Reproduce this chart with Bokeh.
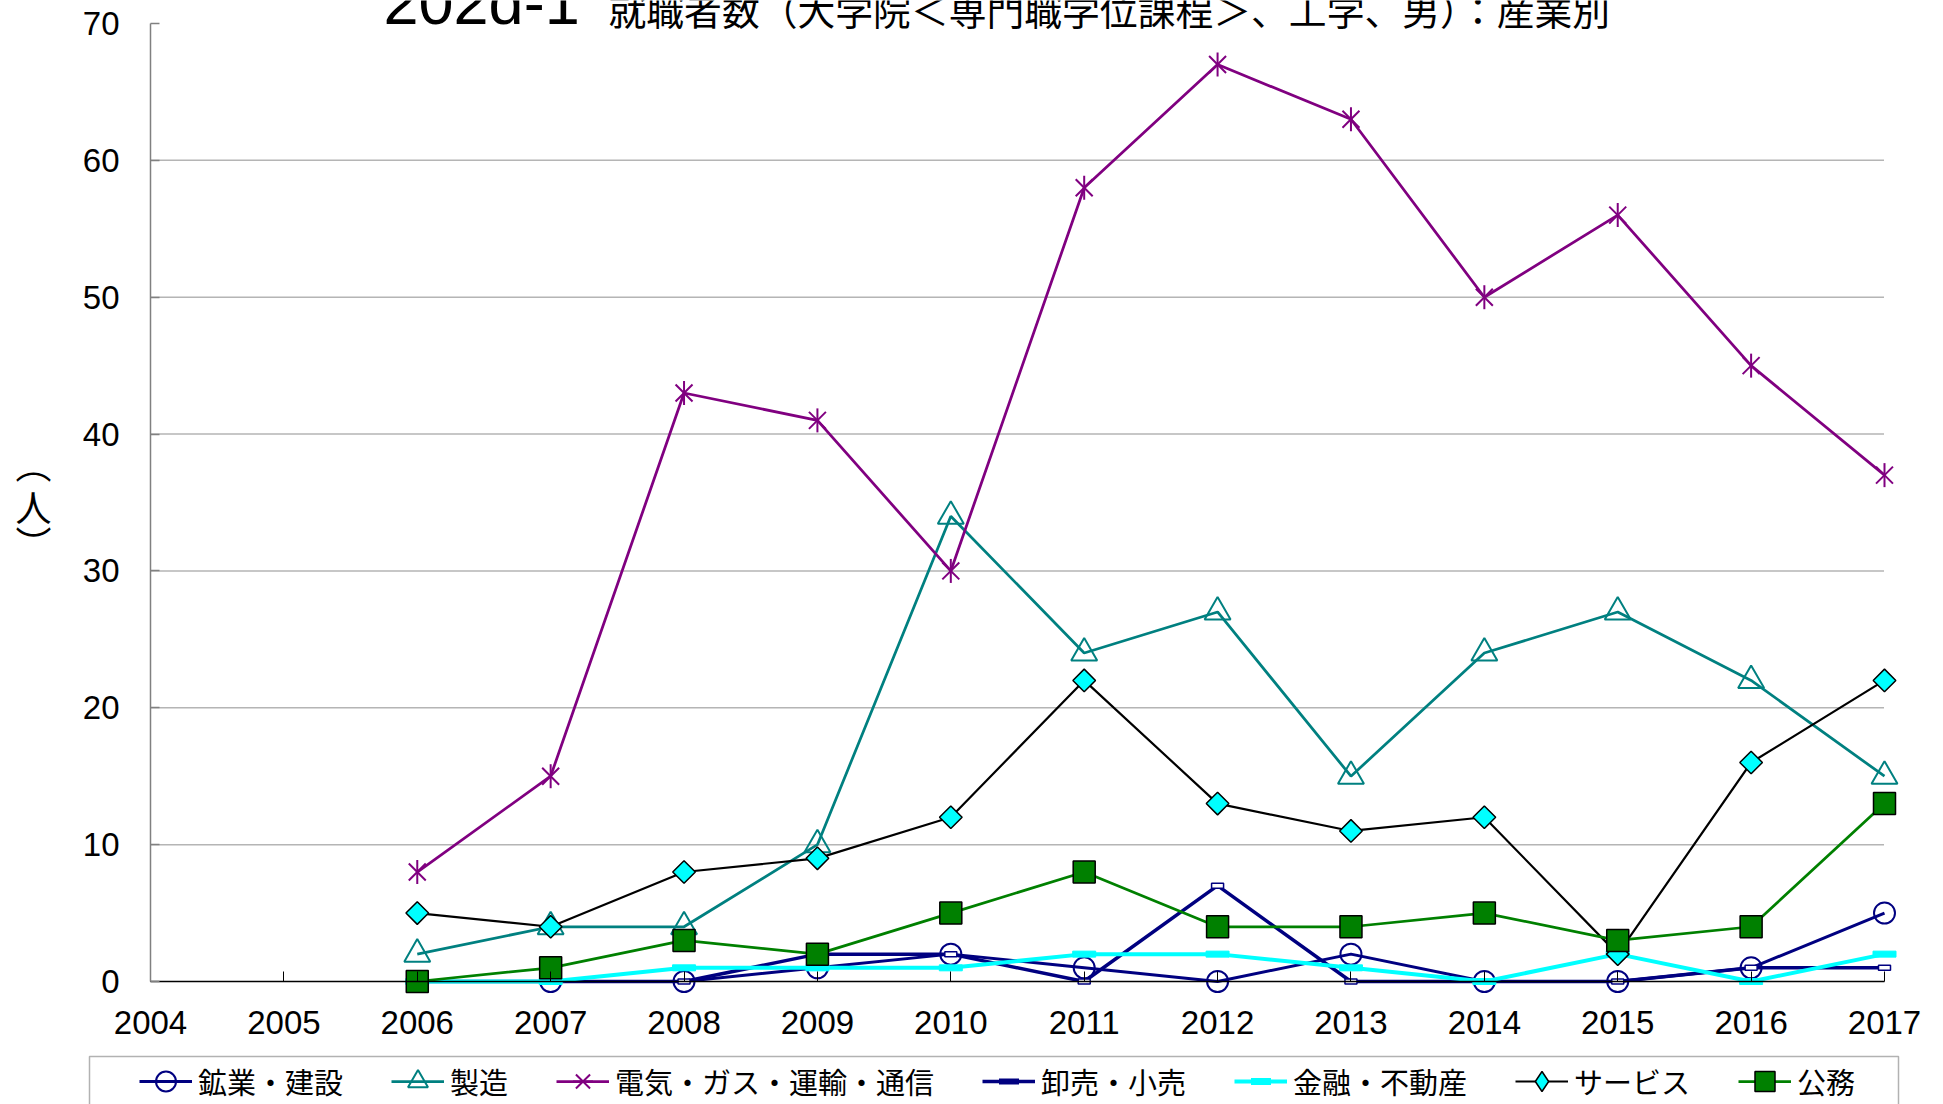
import math
from bokeh.plotting import figure
from bokeh.models import (ColumnDataSource, FixedTicker, Label, Legend, LegendItem, Range1d,
                          BoxAnnotation)
from bokeh.embed import file_html
from bokeh.resources import INLINE

# ---------------- data ----------------
years = [2006, 2007, 2008, 2009, 2010, 2011, 2012, 2013, 2014, 2015, 2016, 2017]
mining_construction = [0, 0, 0, 1, 2, 1, 0, 2, 0, 0, 1, 5]            # 鉱業・建設
manufacturing = [2, 4, 4, 10, 34, 24, 27, 15, 24, 27, 22, 15]          # 製造
utilities_transport = [8, 15, 43, 41, 30, 58, 67, 63, 50, 56, 45, 37]  # 電気・ガス・運輸・通信
wholesale_retail = [0, 0, 0, 2, 2, 0, 7, 0, 0, 0, 1, 1]                # 卸売・小売
finance_realestate = [0, 0, 1, 1, 1, 2, 2, 1, 0, 2, 0, 2]              # 金融・不動産
services = [5, 4, 8, 9, 12, 22, 13, 11, 12, 2, 16, 22]                 # サービス
public_service = [0, 1, 3, 2, 5, 8, 4, 4, 5, 3, 4, 13]                 # 公務

series_names = ["鉱業・建設", "製造", "電気・ガス・運輸・通信", "卸売・小売",
                "金融・不動産", "サービス", "公務"]
x_ticks = list(range(2004, 2018))
y_ticks = [0, 10, 20, 30, 40, 50, 60, 70]
grid_ticks = [10, 20, 30, 40, 50, 60]
title_code = "202d-1"
title_text = "就職者数（大学院＜専門職学位課程＞、工学、男）：産業別"
y_label_chars = ["︵", "人", "︶"]

JP = "Noto Sans CJK JP"
LAT = "Liberation Sans"

# ---------------- layout (pixels) ----------------
W, H = 1943, 1104
AX_LEFT, AX_RIGHT = 150, 1884      # pixel of first / last x tick
AX_BOTTOM, AX_TOP = 981, 23        # pixel of y = 0 / y = 70
x0, x1 = x_ticks[0], x_ticks[-1]
y0, y1 = y_ticks[0], y_ticks[-1]
xs = (AX_RIGHT - AX_LEFT) / (x1 - x0)
ys = (AX_BOTTOM - AX_TOP) / (y1 - y0)
x_range = Range1d(x0 - AX_LEFT / xs, x1 + (W - AX_RIGHT) / xs)
y_range = Range1d(y0 - (H - AX_BOTTOM) / ys, y1 + AX_TOP / ys)

p = figure(width=W, height=H, output_backend="svg", toolbar_location=None,
           x_range=x_range, y_range=y_range,
           min_border_left=0, min_border_right=0, min_border_top=0, min_border_bottom=0)
p.title.text = ""
p.outline_line_color = None
p.background_fill_color = "white"
p.border_fill_color = "white"
p.xgrid.visible = False
p.ygrid.visible = False

# axes drawn at fixed data locations (take no panel space)
p.xaxis.fixed_location = y0
p.yaxis.fixed_location = x0
p.xaxis.bounds = (x0, x1)
p.yaxis.bounds = (y0, y1)
p.xaxis.ticker = FixedTicker(ticks=x_ticks)
p.yaxis.ticker = FixedTicker(ticks=y_ticks)
for ax in (p.xaxis, p.yaxis):
    ax.minor_tick_line_color = None
    ax.major_label_text_font = LAT
    ax.major_label_text_font_size = "33px"
    ax.major_label_text_color = "black"
    ax.major_tick_out = 0
p.xaxis.axis_line_color = "black"
p.xaxis.axis_line_width = 1.5
p.xaxis.major_tick_line_color = "black"
p.xaxis.major_tick_in = 10
p.xaxis.major_label_standoff = 29
p.yaxis.axis_line_color = "#808080"
p.yaxis.axis_line_width = 1.5
p.yaxis.major_tick_line_color = "#808080"
p.yaxis.major_tick_line_width = 1.5
p.yaxis.major_tick_in = 9
p.yaxis.major_label_standoff = 31

# horizontal dotted gridlines across the plotting area
p.segment(x0=x0, x1=x1, y0=grid_ticks, y1=grid_ticks, line_color="#6a6a6a",
          line_width=1.5, line_dash="1 1")

src = ColumnDataSource(dict(x=years, m=mining_construction, f=manufacturing,
                            u=utilities_transport, w=wholesale_retail,
                            fi=finance_realestate, s=services, g=public_service))

NAVY, TEAL, PURPLE, CYAN, GREEN = "#000080", "#008080", "#800080", "#00FFFF", "#008000"

items = []

# 鉱業・建設
l1 = p.line("x", "m", source=src, line_color=NAVY, line_width=3)
m1 = p.scatter("x", "m", source=src, marker="circle", size=21, fill_color=None,
               line_color=NAVY, line_width=2)
items.append(LegendItem(label=series_names[0], renderers=[l1, m1]))

# 製造
l2 = p.line("x", "f", source=src, line_color=TEAL, line_width=2.75)
m2 = p.scatter("x", "f", source=src, marker="triangle", size=26, fill_color=None,
               line_color=TEAL, line_width=2)
items.append(LegendItem(label=series_names[1], renderers=[l2, m2]))

# 電気・ガス・運輸・通信
l3 = p.line("x", "u", source=src, line_color=PURPLE, line_width=2.75)
m3a = p.scatter("x", "u", source=src, marker="x", size=24, line_color=PURPLE, line_width=2)
m3b = p.scatter("x", "u", source=src, marker="dash", size=24, angle=math.pi / 2,
                line_color=PURPLE, line_width=2)
items.append(LegendItem(label=series_names[2], renderers=[l3, m3a, m3b]))

# 卸売・小売
l4 = p.line("x", "w", source=src, line_color=NAVY, line_width=3.5)
p.rect("x", "w", source=src, width=12, height=5, width_units="screen",
       height_units="screen", fill_color="white", line_color=NAVY, line_width=1.5)
g4 = p.scatter("x", "w", source=src, marker="dash", size=0, line_color=NAVY,
               line_width=6, line_cap="butt")
items.append(LegendItem(label=series_names[3], renderers=[l4, g4]))

# 金融・不動産
l5 = p.line("x", "fi", source=src, line_color=CYAN, line_width=4)
p.rect("x", "fi", source=src, width=23, height=6, width_units="screen",
       height_units="screen", fill_color=CYAN, line_color=CYAN, line_width=1)
g5 = p.scatter("x", "fi", source=src, marker="dash", size=0, line_color=CYAN,
               line_width=7, line_cap="butt")
items.append(LegendItem(label=series_names[4], renderers=[l5, g5]))

# サービス
l6 = p.line("x", "s", source=src, line_color="black", line_width=2.2)
p.scatter("x", "s", source=src, marker="square", size=16, angle=math.pi / 4,
          fill_color=CYAN, line_color="black", line_width=1.5)
g6 = p.scatter("x", "s", source=src, marker="diamond", size=0, fill_color=CYAN,
               line_color="black", line_width=1.5)
items.append(LegendItem(label=series_names[5], renderers=[l6, g6]))

# 公務
l7 = p.line("x", "g", source=src, line_color=GREEN, line_width=2.75)
m7 = p.scatter("x", "g", source=src, marker="square", size=22, fill_color=GREEN,
               line_color="black", line_width=1.5)
items.append(LegendItem(label=series_names[6], renderers=[l7, m7]))

# legend frame (box) and legend
p.add_layout(BoxAnnotation(left=89, right=1898, top=H - 1056, bottom=-20,
                           left_units="screen", right_units="screen",
                           top_units="screen", bottom_units="screen",
                           fill_color="white", fill_alpha=1,
                           line_color="black", line_width=1.5))
legend = Legend(items=items, orientation="horizontal", location=(139, -2),
                label_text_font=JP, label_text_font_size="29px", label_text_color="black",
                label_standoff=6, spacing=48, glyph_width=53, glyph_height=50,
                label_height=40, padding=0, margin=0, border_line_color=None,
                background_fill_alpha=0)
p.add_layout(legend, "center")

# title (clipped at the canvas top like the original)
p.add_layout(Label(x=383, y=H - 1, x_units="screen", y_units="screen",
                   text=title_code, text_font=LAT, text_font_size="63px", text_color="black",
                   text_baseline="alphabetic", text_align="left"))
p.add_layout(Label(x=608, y=H - 8, x_units="screen", y_units="screen",
                   text=title_text, text_font=JP, text_font_size="37.8px", text_color="black",
                   text_baseline="alphabetic", text_align="left"))

# vertical y-axis label （人） written with vertical presentation forms
for ch, py in zip(y_label_chars, [462, 505, 541]):
    p.add_layout(Label(x=33, y=H - py, x_units="screen", y_units="screen", text=ch,
                       text_font=JP, text_font_size="36px", text_color="black",
                       text_align="center", text_baseline="middle"))

open("out.html", "w").write(file_html(p, INLINE))
